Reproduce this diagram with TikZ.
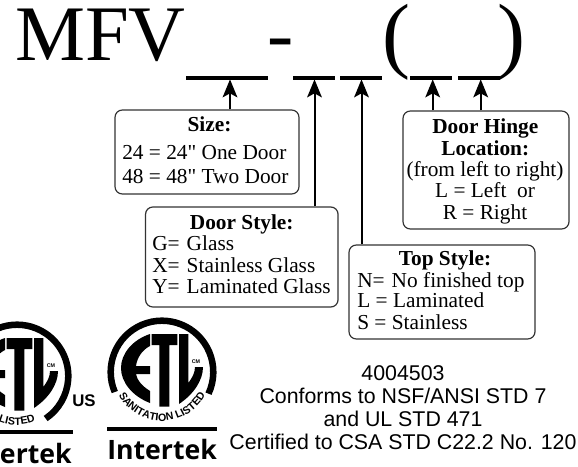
\documentclass[tikz,border=0pt]{standalone}
\usepackage{fontspec}
\setmainfont{Liberation Serif}
\newfontfamily\plainserif{Liberation Serif}
\newfontfamily\arialfont{Liberation Sans}
\newfontfamily\logofont{Open Sans}
\usetikzlibrary{arrows.meta,decorations.text}
\tikzset{
  px/.style={x=0.75pt,y=-0.75pt},
  box/.style={draw=black!80,line width=0.9pt,rounded corners=5.5pt,inner sep=0pt,fill=white},
  bar/.style={fill=black,inner sep=0pt,minimum height=3pt},
  arr/.style={line width=1.5pt,-{Stealth[length=13.5pt,width=11pt,inset=3pt]},shorten >=-0.5pt},
  big/.style={inner sep=0pt,anchor=base west,font=\fontsize{59}{59}\selectfont},
  paren/.style={inner sep=0pt,anchor=base west,font=\fontsize{63}{63}\selectfont},
  head/.style={inner sep=0pt,anchor=base,font=\fontsize{16}{16}\selectfont\bfseries},
  txtc/.style={inner sep=0pt,anchor=base,font=\fontsize{16}{16}\selectfont},
  txtl/.style={inner sep=0pt,anchor=base west,font=\fontsize{16}{16}\selectfont},
  note/.style={inner sep=0pt,anchor=base,font=\arialfont\fontsize{16}{16}\selectfont},
  rule/.style={fill=black,inner sep=0pt,minimum height=2.3pt,minimum width=82.5pt},
  brand/.style={inner sep=0pt,anchor=base west,font=\logofont\bfseries\fontsize{20}{20}\selectfont},
  pics/etl/.style n args={3}{code={
    \draw[line width=4.9pt] (#1:51.3) arc[start angle=#1,end angle=#2,radius=51.3];
    \fill (-10.3,-38) -- (15.3,-38) -- (15.3,-27) -- (7.3,-27) -- (7.3,34.7) -- (-2.7,34.7) -- (-2.7,-27) -- (-10.3,-27) -- cycle;
    \fill (-12,-38) .. controls (-30,-32) and (-41,-18) .. (-41,-4) .. controls (-41,10) and (-30,24) .. (-12,31)
      -- (-12,19) .. controls (-20,14) and (-25,8) .. (-26,2) -- (-12,2) -- (-12,-6) -- (-26,-6)
      .. controls (-25,-14) and (-20,-22) .. (-12,-26) -- cycle;
    \fill (17,-38) -- (26.3,-38) -- (26.3,11) .. controls (30,6) and (33,1) .. (33,-5) -- (41,-5)
      .. controls (41,8) and (32,22) .. (17,32) -- cycle;
    \node[inner sep=0pt,font=\arialfont\bfseries\fontsize{4}{4}\selectfont] (cm) at (34,-10) {CM};
    \path[decorate,decoration={text along path,text align=center,
      text={|\arialfont\bfseries\fontsize{8}{8}\selectfont|#3}}]
      (160:49) arc[start angle=160,end angle=20,radius=49];
  }}
}
\begin{document}
\begin{tikzpicture}[px]
\useasboundingbox (0,0) rectangle (578,467);
\clip (0,0) rectangle (578,467);
% part number
\node[big] (mfv) at (15,61) {MFV};
\node[big] (dash) at (267,61) {-};
\node[paren] (po) at (382,63) {(};
\node[paren] (pc) at (497.5,63) {)};
\node[bar,minimum width=61.5pt] (b1) at (227,78) {};
\node[bar,minimum width=31.5pt] (b2) at (314,78) {};
\node[bar,minimum width=31.5pt] (b3) at (361,78) {};
\node[bar,minimum width=31.5pt] (b4) at (431,78) {};
\node[bar,minimum width=31.5pt] (b5) at (479,78) {};
\coordinate (a1) at (230,80);
\coordinate (a2) at (314.5,80);
\coordinate (a3) at (361.5,80);
\coordinate (a4) at (432.7,80);
\coordinate (a5) at (480.7,80);
% boxes
\node[box,minimum width=138pt,minimum height=63pt] (size) at (207,152) {};
\node[box,minimum width=144.4pt,minimum height=75pt] (door) at (241.8,257) {};
\node[box,minimum width=139.5pt,minimum height=70.5pt] (top) at (442,292) {};
\node[box,minimum width=124.5pt,minimum height=88.5pt] (hinge) at (486,170) {};
% connectors
\draw[arr] (a1 |- size.north) -- (a1);
\draw[arr] (a2 |- door.north) -- (a2);
\draw[arr] (a3 |- top.north) -- (a3);
\draw[arr] (a4 |- hinge.north) -- (a4);
\draw[arr] (a5 |- hinge.north) -- (a5);
% size
\node[head] (s0) at (209.5,132) {Size:};
\node[txtl] (s1) at (122,159) {24 = 24{\plainserif "} One Door};
\node[txtl] (s2) at (122,183) {48 = 48{\plainserif "} Two Door};
% door style
\node[head] (d0) at (241.7,229) {Door Style:};
\node[txtl] (d1) at (152,250) {G=\hspace{.08em} Glass};
\node[txtl] (d2) at (152,272) {X=\hspace{.08em} Stainless Glass};
\node[txtl] (d3) at (152,293) {Y=\hspace{.08em} Laminated Glass};
% top style
\node[head] (t0) at (445,265) {Top Style:};
\node[txtl] (t1) at (357,287) {N=\hspace{.08em} No finished top};
\node[txtl] (t2) at (357,307) {L = Laminated};
\node[txtl] (t3) at (357,329) {S = Stainless};
% hinge
\node[head] (h0) at (485.3,133) {Door Hinge};
\node[head] (h1) at (485.3,155) {Location:};
\node[txtc] (h2) at (485,176) {(from left to right)};
\node[txtc] (h3) at (485,197) {L = Left\ \ or};
\node[txtc] (h4) at (485,219) {R = Right};
% certification text
\node[note] (n0) at (403,380) {4004503};
\node[note] (n1) at (403,403) {Conforms to NSF/ANSI STD 7};
\node[note] (n2) at (403,426) {and UL STD 471};
\node[note] (n3) at (403,449) {Certified to CSA STD C22.2 No. 120};
% logos
\pic (lg) at (17,376) {etl={124}{416}{LISTED}};
\pic (rg) at (162,372) {etl={157}{385}{SANITATION LISTED}};
\node[inner sep=0pt,anchor=base west,font=\arialfont\bfseries\fontsize{12.6}{12.6}\selectfont] (us) at (72,406) {US};
\node[rule,anchor=east] (lr) at (73,432) {};
\node[rule,anchor=west] (rr) at (107,429) {};
\node[brand,anchor=base east] (lb) at (72,463) {Intertek};
\node[brand] (rb) at (107,459) {Intertek};
\end{tikzpicture}
\end{document}
